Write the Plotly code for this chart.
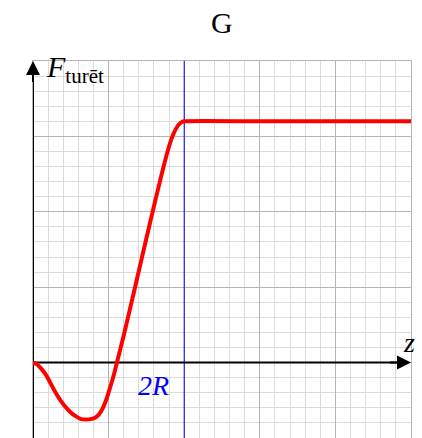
import plotly.graph_objects as go

# Force profile F_turet(z): dip below zero, rise, then constant beyond z = 2R
z_vals = [0, 0.05, 0.1, 0.17, 0.23, 0.3, 0.37, 0.45, 0.52, 0.58, 0.64, 0.70,
          0.76, 0.82, 0.87, 0.92, 0.97, 1.02, 1.07, 1.11, 1.2, 1.35, 1.5, 1.62,
          1.71, 1.78, 1.84, 1.89, 1.93, 1.97, 2.0, 3.0, 4.0, 5.0]
f_vals = [0, -0.02, -0.07, -0.16, -0.27, -0.40, -0.51, -0.61, -0.68, -0.72, -0.75, -0.755,
          -0.75, -0.73, -0.69, -0.61, -0.49, -0.33, -0.16, 0.0, 0.36, 1.0, 1.65, 2.16,
          2.53, 2.8, 2.99, 3.1, 3.16, 3.19, 3.2, 3.2, 3.2, 3.2]

x_range = [0, 5]
y_range = [-1, 4]
z_2R = 2.0

FONT = "Liberation Serif"

fig = go.Figure()

# marker line at z = 2R
fig.add_trace(go.Scatter(x=[z_2R, z_2R], y=y_range, mode="lines",
                         line=dict(color="#0000ff", width=1), hoverinfo="skip"))
# coordinate axes (arrowheads added as annotations)
fig.add_trace(go.Scatter(x=[x_range[0], x_range[1] - 0.1], y=[0, 0], mode="lines",
                         line=dict(color="black", width=2), hoverinfo="skip"))
fig.add_trace(go.Scatter(x=[0, 0], y=[y_range[0], y_range[1] - 0.1], mode="lines",
                         line=dict(color="black", width=2), hoverinfo="skip"))
# force curve
fig.add_trace(go.Scatter(x=z_vals, y=f_vals, mode="lines", line_shape="spline",
                         line=dict(color="#ff0000", width=4, smoothing=0.6),
                         hoverinfo="skip"))

grid_major = "#b4b4b4"
grid_minor = "#dcdcdc"
axis_common = dict(showticklabels=False, ticks="", zeroline=False,
                   showgrid=True, gridcolor=grid_major, gridwidth=1, dtick=1,
                   showline=True, linecolor=grid_major, linewidth=1, mirror=True,
                   minor=dict(dtick=0.2, showgrid=True, gridcolor=grid_minor, gridwidth=1))

fig.update_xaxes(range=x_range, **axis_common)
fig.update_yaxes(range=y_range, **axis_common)

arrow = dict(text="", showarrow=True, axref="x", ayref="y", xref="x", yref="y",
             arrowhead=2, arrowsize=1.4, arrowwidth=2, arrowcolor="black")
ann = [
    dict(x=x_range[1], y=0, ax=x_range[1] - 0.3, ay=0, **arrow),
    dict(x=0, y=y_range[1], ax=0, ay=y_range[1] - 0.3, **arrow),
    dict(x=-0.28, y=-0.03, text="0", showarrow=False, xref="x", yref="y",
         font=dict(family=FONT, size=28, color="black")),
    dict(x=1.59, y=-0.30, text="<i>2R</i>", showarrow=False, xref="x", yref="y",
         font=dict(family=FONT, size=28, color="#0000ff")),
    dict(x=4.98, y=0.27, text="<i>z</i>", showarrow=False, xref="x", yref="y",
         font=dict(family=FONT, size=28, color="black")),
    dict(x=0.15, y=3.9, text="<i>F</i><sub>turēt</sub>", showarrow=False,
         xref="x", yref="y", xanchor="left", yanchor="middle",
         font=dict(family=FONT, size=30, color="black")),
    dict(x=0.5, y=1.103, text="G", showarrow=False, xref="paper", yref="paper",
         xanchor="center", yanchor="middle",
         font=dict(family=FONT, size=30, color="black")),
]

fig.update_layout(
    width=422, height=438,
    margin=dict(l=33, r=11, t=61, b=0),
    paper_bgcolor="white", plot_bgcolor="white",
    showlegend=False, annotations=ann,
)

fig.write_html("out.html")
